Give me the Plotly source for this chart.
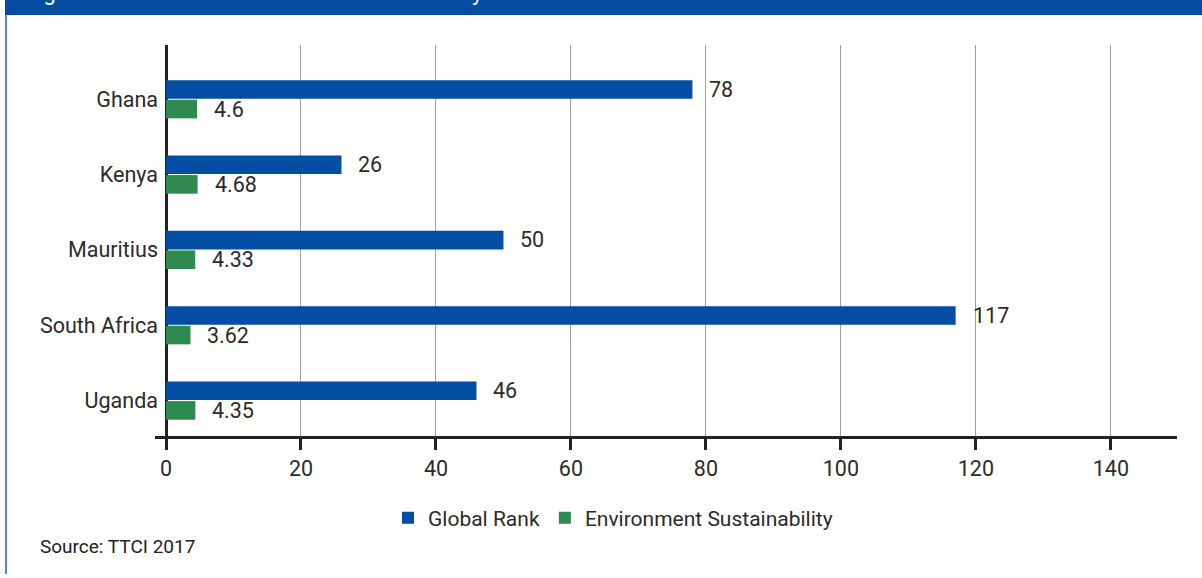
import plotly.graph_objects as go

countries = ["Ghana", "Kenya", "Mauritius", "South Africa", "Uganda"]
global_rank = [78, 26, 50, 117, 46]
env_sust = [4.6, 4.68, 4.33, 3.62, 4.35]
x_ticks = [0, 20, 40, 60, 80, 100, 120, 140]
series_names = ["Global Rank", "Environment Sustainability"]
title_text = "Figure 8: Ranks and Environment Sustainability of Selected Countries"
source_text = "Source: TTCI 2017"

BLUE = "#034ea2"
GREEN = "#2e8a4e"
TXT = "#2b2b2b"
AX = "#222222"
FONT = "Roboto"
FS = 21.5

W, H = 1202, 578
ML, MR, MT, MB = 155, 25, 45, 142
PW, PH = W - ML - MR, H - MT - MB


def px2x(px):
    return (px - ML) / PW


def py2y(py):
    return (H - MB - py) / PH


fig = go.Figure()
fig.add_trace(go.Bar(y=countries, x=global_rank, orientation="h", name=series_names[0],
                     marker=dict(color=BLUE, line=dict(width=0))))
fig.add_trace(go.Bar(y=countries, x=env_sust, orientation="h", name=series_names[1],
                     marker=dict(color=GREEN, line=dict(width=0))))

annotations = []
for c, v in zip(countries, global_rank):
    annotations.append(dict(x=v, y=c, xref="x", yref="y", text=str(v), showarrow=False,
                            xanchor="left", yanchor="middle", xshift=15, yshift=10,
                            font=dict(family=FONT, size=FS, color=TXT)))
for c, v in zip(countries, env_sust):
    annotations.append(dict(x=v, y=c, xref="x", yref="y", text=str(v), showarrow=False,
                            xanchor="left", yanchor="middle", xshift=15, yshift=-10,
                            font=dict(family=FONT, size=FS, color=TXT)))
annotations.append(dict(x=px2x(38), y=py2y(546), xref="paper", yref="paper", text=source_text,
                        showarrow=False, xanchor="left", yanchor="middle",
                        font=dict(family=FONT, size=19, color="#222")))
annotations.append(dict(x=px2x(24), y=py2y(7), xref="paper", yref="paper", text=title_text,
                        showarrow=False, xanchor="left", yanchor="bottom",
                        font=dict(family=FONT, size=22, color="white")))

shapes = [
    dict(type="rect", xref="paper", yref="paper", x0=px2x(5), x1=px2x(1202), y0=py2y(15), y1=py2y(0),
         fillcolor=BLUE, line=dict(width=0), layer="below"),
    dict(type="line", xref="paper", yref="paper", x0=px2x(6), x1=px2x(6), y0=py2y(15), y1=py2y(574),
         line=dict(color="#1f5fb5", width=1.5)),
]

fig.update_layout(
    width=W, height=H,
    margin=dict(l=ML, r=MR, t=MT, b=MB),
    paper_bgcolor="white", plot_bgcolor="white",
    barmode="group", bargap=0.48, bargroupgap=0.05,
    font=dict(family=FONT, size=FS, color=TXT),
    showlegend=True,
    legend=dict(orientation="h", x=px2x(613), y=py2y(518), xanchor="center", yanchor="middle",
                font=dict(family=FONT, size=21, color=TXT), itemwidth=30, traceorder="normal",
                bgcolor="rgba(0,0,0,0)"),
    annotations=annotations,
    shapes=shapes,
)
fig.update_xaxes(range=[-1.63, 149.8], tickvals=x_ticks, showgrid=True, gridcolor="#a0a0a0", gridwidth=1,
                 zeroline=True, zerolinecolor=AX, zerolinewidth=2.5,
                 showline=True, linecolor=AX, linewidth=2.5,
                 ticks="outside", ticklen=11, tickwidth=2.5, tickcolor=AX,
                 tickfont=dict(family=FONT, size=FS, color=TXT), fixedrange=True)
fig.update_yaxes(categoryorder="array", categoryarray=countries, range=[4.47, -0.72],
                 showgrid=False, zeroline=False, showline=False, ticks="",
                 ticklabelstandoff=-4,
                 tickfont=dict(family=FONT, size=FS, color=TXT), fixedrange=True)

fig.write_html("out.html")
